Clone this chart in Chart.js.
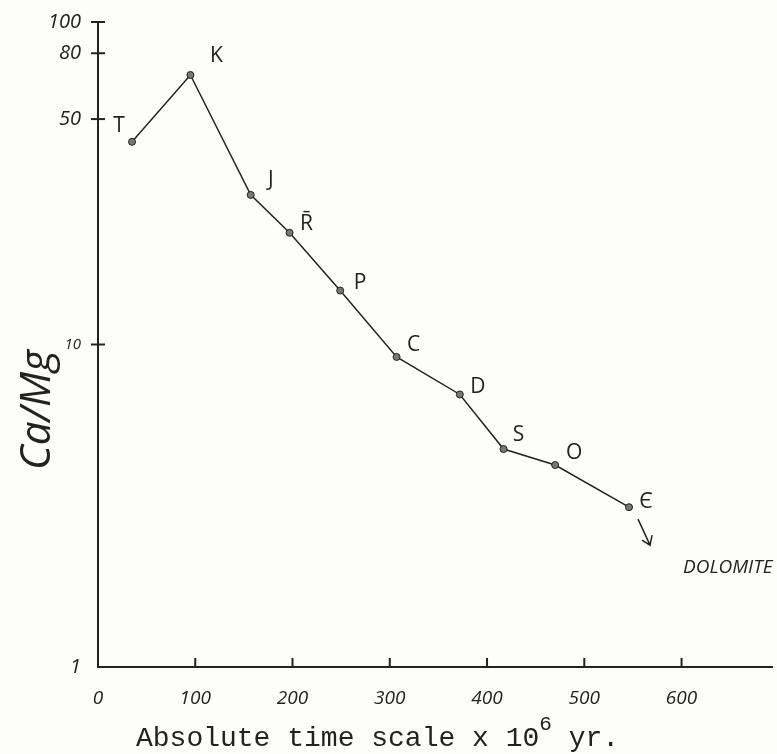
<!DOCTYPE html>
<html>
<head>
<meta charset="utf-8">
<script src="https://cdn.jsdelivr.net/npm/chart.js@4.4.1/dist/chart.umd.min.js"></script>
<style>
  html, body { margin: 0; padding: 0; background: #fdfdfb; }
  #wrap { width: 777px; height: 754px; position: relative; }
</style>
</head>
<body>
<div id="wrap"><canvas id="chart"></canvas></div>
<script>
// geologic periods, age in millions of years, Ca/Mg ratio of limestones
const periods = ['T', 'K', 'J', 'R\u0304', 'P', 'C', 'D', 'S', 'O', '\u0404']
const ageMa = [35, 95, 157, 197, 249, 307, 372, 417, 470, 546]
const caMgRatio = [42.5, 68.5, 29.1, 22.2, 14.7, 9.15, 7.0, 4.74, 4.23, 3.13]

const xTicks = [0, 100, 200, 300, 400, 500, 600]
const yTicks = [1, 10, 50, 80, 100]

const INK = '#222'
const HAND = "'Open Sans', 'DejaVu Sans', sans-serif"
const TYPE = "'Liberation Mono', monospace"

// where each period letter sits around its point (text centre, px)
const labelOffsets = [[-13, -16], [26, -19], [20, -15], [17, -9], [20, -8],
  [17, -12], [18, -7], [15, -14], [19, -12], [17, -5]]

const inkPlugin = {
  id: 'ink',
  afterDraw(chart) {
    const { ctx, scales: { x, y } } = chart
    ctx.save()
    ctx.strokeStyle = INK
    ctx.fillStyle = INK
    ctx.lineWidth = 2

    // hand tick marks
    yTicks.slice(1).forEach(v => {
      const py = y.getPixelForValue(v)
      ctx.beginPath()
      ctx.moveTo(x.left - 7, py)
      ctx.lineTo(x.left + 7, py)
      ctx.stroke()
    })
    xTicks.slice(1).forEach(v => {
      const px = x.getPixelForValue(v)
      ctx.beginPath()
      ctx.moveTo(px, y.bottom)
      ctx.lineTo(px, y.bottom - 9)
      ctx.stroke()
    })

    // period letters
    ctx.font = `21px ${HAND}`
    ctx.textAlign = 'center'
    ctx.textBaseline = 'middle'
    periods.forEach((p, i) => {
      const px = x.getPixelForValue(ageMa[i]) + labelOffsets[i][0]
      const py = y.getPixelForValue(caMgRatio[i]) + labelOffsets[i][1]
      ctx.fillText(p, px, py)
    })

    // dolomite arrow
    ctx.lineWidth = 1.5
    const last = caMgRatio.length - 1
    const ax = x.getPixelForValue(ageMa[last]) + 9
    const ay = y.getPixelForValue(caMgRatio[last]) + 12
    ctx.beginPath()
    ctx.moveTo(ax, ay)
    ctx.lineTo(ax + 12, ay + 26)
    ctx.moveTo(ax + 4, ay + 21)
    ctx.lineTo(ax + 12, ay + 26)
    ctx.lineTo(ax + 14, ay + 16)
    ctx.stroke()
    ctx.font = `italic 19px ${HAND}`
    ctx.textAlign = 'left'
    ctx.fillText('DOLOMITE', 683, 568)

    // y title
    ctx.save()
    ctx.translate(38, 410)
    ctx.rotate(-Math.PI / 2)
    ctx.font = `italic 42px ${HAND}`
    ctx.textAlign = 'center'
    ctx.fillText('Ca/Mg', 0, 0)
    ctx.restore()

    // x title with superscript
    ctx.font = `28px ${TYPE}`
    ctx.textAlign = 'left'
    ctx.textBaseline = 'alphabetic'
    const head = 'Absolute time scale x 10'
    let tx = 136
    ctx.fillText(head, tx, 746)
    tx += ctx.measureText(head).width
    ctx.font = `21px ${TYPE}`
    ctx.fillText('6', tx, 730)
    tx += ctx.measureText('6').width
    ctx.font = `28px ${TYPE}`
    ctx.fillText(' yr.', tx, 746)
    ctx.restore()
  }
}

new Chart(document.getElementById('chart'), {
  type: 'scatter',
  data: {
    datasets: [{
      data: ageMa.map((a, i) => ({ x: a, y: caMgRatio[i] })),
      showLine: true,
      borderColor: INK,
      borderWidth: 1.5,
      pointRadius: 3.5,
      pointBackgroundColor: '#777',
      pointBorderColor: INK,
      pointBorderWidth: 1,
    }],
  },
  options: {
    responsive: true,
    maintainAspectRatio: false,
    animation: false,
    layout: { padding: { top: 22, right: 0, left: 0, bottom: 0 } },
    plugins: { legend: { display: false }, tooltip: { enabled: false } },
    scales: {
      x: {
        type: 'linear',
        min: 0,
        max: 693,
        afterBuildTicks: s => { s.ticks = xTicks.map(value => ({ value })) },
        afterFit: s => { s.height = 87 },
        grid: { display: false },
        border: { display: true, color: INK, width: 2 },
        ticks: {
          color: INK,
          padding: 12,
          maxRotation: 0,
          font: { family: HAND, size: 19, style: 'italic' },
        },
      },
      y: {
        type: 'logarithmic',
        min: 1,
        max: 100,
        afterBuildTicks: s => { s.ticks = yTicks.map(value => ({ value })) },
        afterFit: s => { s.width = 98 },
        grid: { display: false },
        border: { display: true, color: INK, width: 2 },
        ticks: {
          color: INK,
          padding: 9,
          font: ctx => ({ family: HAND, size: ctx.tick && ctx.tick.value === 10 ? 15 : 20, style: 'italic' }),
          callback: v => String(v),
        },
      },
    },
  },
  plugins: [inkPlugin],
})
</script>
</body>
</html>
